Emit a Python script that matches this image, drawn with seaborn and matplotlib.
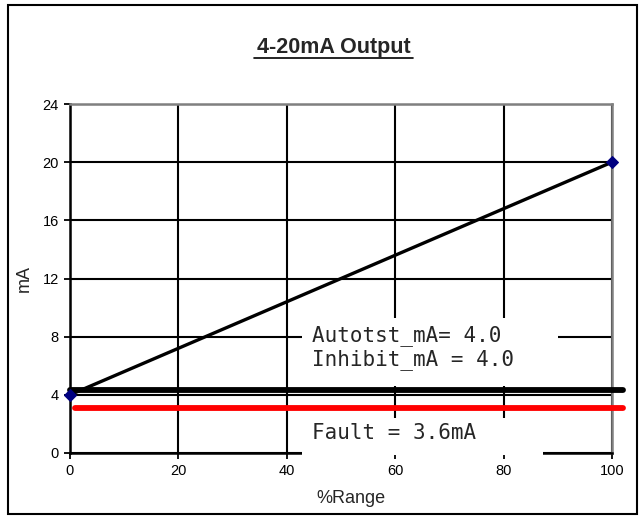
import matplotlib
matplotlib.use('Agg')
import matplotlib.pyplot as plt
import seaborn as sns
from matplotlib.patches import Rectangle
from matplotlib.lines import Line2D

# Datos
pct_range = [0, 100]
salida_ma = [4, 20]
inhibit_x = [0, 102]
inhibit_ma = [4.3, 4.3]
fault_x = [1, 102]
fault_ma = [3.1, 3.1]
x_ticks = [0, 20, 40, 60, 80, 100]
y_ticks = [0, 4, 8, 12, 16, 20, 24]
titulo = '4-20mA Output'
textos = ['Autotst_mA= 4.0', 'Inhibit_mA = 4.0', 'Fault = 3.6mA']

# Estilo
sns.set_style('ticks')
plt.rcParams['font.family'] = ['Liberation Sans', 'DejaVu Sans']

W, H = 644, 518
fig = plt.figure(figsize=(W / 100, H / 100), dpi=100)
ax = fig.add_axes([70 / W, 65 / H, 542 / W, 349 / H])

# Lineas
sns.lineplot(x=pct_range, y=salida_ma, ax=ax, color='black', lw=2.4,
             marker='D', markersize=6, markerfacecolor='#000080',
             markeredgecolor='#000080', clip_on=False, zorder=6)
sns.lineplot(x=inhibit_x, y=inhibit_ma, ax=ax, color='black', lw=4.2,
             solid_capstyle='round', clip_on=False, zorder=5)
sns.lineplot(x=fault_x, y=fault_ma, ax=ax, color='#ff0000', lw=4.2,
             solid_capstyle='round', clip_on=False, zorder=5)

# Ejes
ax.set_xlim(0, 100)
ax.set_ylim(0, 24)
ax.set_xticks(x_ticks)
ax.set_yticks(y_ticks)
ax.grid(True, color='black', lw=1.5)
ax.set_axisbelow(True)
for lado in ['top', 'right']:
    ax.spines[lado].set_color('#808080')
    ax.spines[lado].set_linewidth(1.8)
for lado in ['left', 'bottom']:
    ax.spines[lado].set_color('black')
    ax.spines[lado].set_linewidth(1.8)
ax.tick_params(direction='out', length=4, width=1.3, color='black',
               labelsize=10.5, labelcolor='black', pad=4)

ax.set_xlabel('%Range', fontsize=13)
ax.set_ylabel('mA', fontsize=13)
ax.xaxis.set_label_coords(0.518, -0.105)
ax.yaxis.set_label_coords(-0.068, 0.5)

# Cuadros de texto
ax.add_patch(Rectangle((42.8, 4.6), 47.2, 4.7, facecolor='white',
                       edgecolor='none', zorder=3))
ax.add_patch(Rectangle((42.8, -0.15), 44.5, 2.55, facecolor='white',
                       edgecolor='none', zorder=3, clip_on=False))
ax.text(44.6, 8.1, textos[0], va='center', family='DejaVu Sans Mono',
        fontsize=15, zorder=4)
ax.text(44.6, 6.4, textos[1], va='center', family='DejaVu Sans Mono',
        fontsize=15, zorder=4)
ax.text(44.6, 1.38, textos[2], va='center', family='DejaVu Sans Mono',
        fontsize=15, zorder=4)

# Titulo subrayado
fig.text(333.5 / W, 1 - 48 / H, titulo, ha='center', va='center',
         fontsize=15.5, fontweight='bold')
fig.add_artist(Line2D([254 / W, 413 / W], [1 - 58 / H, 1 - 58 / H],
                      color='black', lw=1.2, transform=fig.transFigure))

# Marco exterior
fig.add_artist(Rectangle((8 / W, 4 / H), 629 / W, 509 / H, fill=False,
                         edgecolor='black', lw=1.5, transform=fig.transFigure))

fig.savefig('out.png', dpi=100)
